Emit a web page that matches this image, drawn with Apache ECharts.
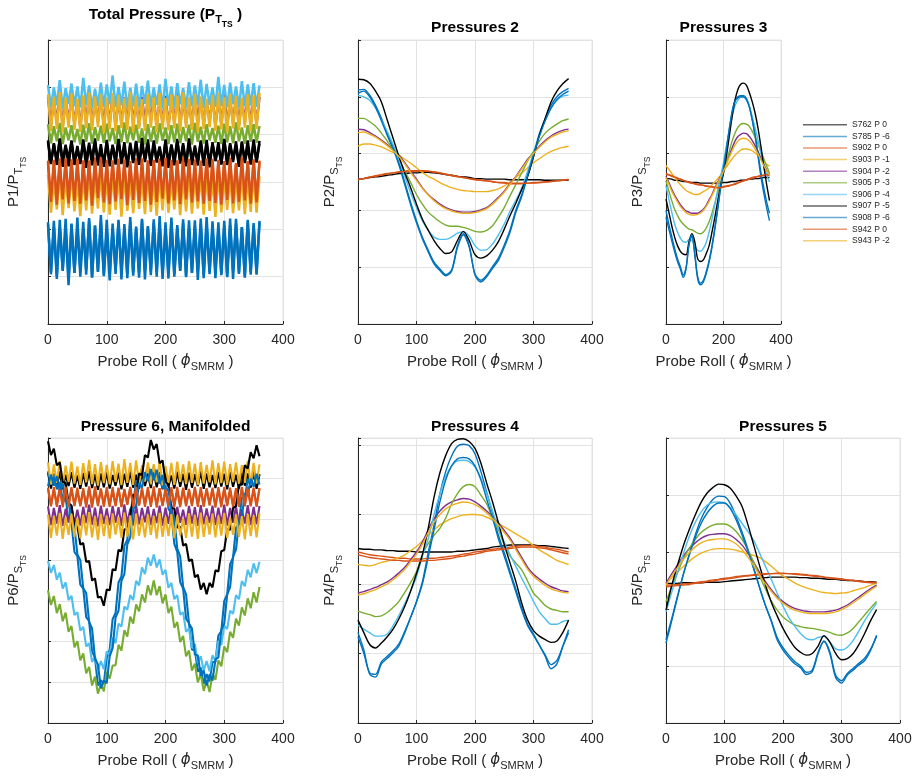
<!DOCTYPE html>
<html><head><meta charset="utf-8">
<script src="https://cdn.jsdelivr.net/npm/echarts@6/dist/echarts.min.js"></script>
<style>html,body{margin:0;padding:0;background:#fff}#c{width:915px;height:776px}</style>
</head><body><div id="c"></div>
<script>
// ---------- sampling of probe roll (degrees) ----------
const rollDeg = [0,10,20,30,40,50,60,70,80,90,100,110,120,130,140,150,160,170,180,190,200,210,220,230,240,250,260,270,280,290,300,310,320,330,340,350,360];
const rollDegFine = [0,5,10,15,20,25,30,35,40,45,50,55,60,65,70,75,80,85,90,95,100,105,110,115,120,125,130,135,140,145,150,155,160,165,170,175,180,185,190,195,200,205,210,215,220,225,230,235,240,245,250,255,260,265,270,275,280,285,290,295,300,305,310,315,320,325,330,335,340,345,350,355,360];

const seriesNames = ['S762 P 0','S785 P -6','S902 P 0','S903 P -1','S904 P -2','S905 P -3','S906 P -4','S907 P -5','S908 P -6','S942 P 0','S943 P -2'];

// ---------- Total Pressure (P1 / PT_TS) ----------
const tot_S762 = [3.85,3.38,3.80,3.45,3.90,3.32,3.75,3.50,3.88,3.36, 3.70,3.42,3.86,3.30,3.78,3.48,3.92,3.35,3.72,3.40, 3.84,3.33,3.79,3.46,3.89,3.38,3.74,3.31,3.83,3.44, 3.87,3.37,3.76,3.49,3.90,3.34,3.81,3.41,3.73,3.36, 3.86,3.30,3.79,3.45,3.91,3.39,3.77,3.33,3.85,3.47, 3.72,3.35,3.88,3.42,3.80,3.31,3.84,3.44,3.75,3.38, 3.89,3.36,3.82,3.48,3.78,3.32,3.86,3.40,3.74,3.37, 3.90,3.43,3.81];
const tot_S785 = [2.15,1.05,2.05,0.95,2.20,1.12,1.98,0.82,2.10,1.08, 2.25,1.00,2.02,1.15,2.18,0.98,2.08,1.10,2.30,1.04, 1.95,0.92,2.12,1.06,2.20,1.13,2.00,0.97,2.16,1.02, 2.06,1.09,2.22,0.94,2.04,1.11,2.14,1.00,2.28,1.07, 1.99,0.96,2.17,1.05,2.09,1.12,2.21,0.99,2.03,1.08, 2.19,0.93,2.11,1.03,2.26,1.10,2.01,0.97,2.15,1.06, 2.07,1.01,2.23,0.95,2.12,1.09,2.05,0.98,2.20,1.04, 2.13,1.07,2.18];
const tot_S902 = [3.45,2.55,3.38,2.62,3.50,2.50,3.40,2.66,3.48,2.58, 3.35,2.52,3.46,2.64,3.42,2.54,3.52,2.60,3.37,2.48, 3.47,2.57,3.41,2.63,3.49,2.53,3.36,2.61,3.44,2.56, 3.51,2.59,3.39,2.51,3.46,2.65,3.43,2.55,3.50,2.58, 3.38,2.49,3.47,2.62,3.42,2.54,3.53,2.60,3.40,2.57, 3.48,2.52,3.36,2.64,3.45,2.56,3.49,2.50,3.41,2.61, 3.44,2.55,3.51,2.59,3.37,2.53,3.46,2.63,3.42,2.57, 3.48,2.60,3.45];
const tot_S903 = [3.15,2.35,3.05,2.42,3.20,2.30,3.10,2.45,3.18,2.38, 3.02,2.28,3.12,2.40,3.22,2.33,3.08,2.44,3.16,2.36, 3.06,2.31,3.19,2.41,3.11,2.27,3.14,2.39,3.04,2.34, 3.17,2.43,3.09,2.32,3.21,2.37,3.07,2.29,3.13,2.40, 3.18,2.35,3.03,2.42,3.15,2.30,3.10,2.38,3.20,2.33, 3.08,2.44,3.16,2.31,3.12,2.39,3.05,2.26,3.19,2.36, 3.11,2.41,3.14,2.34,3.07,2.40,3.17,2.32,3.09,2.37, 3.15,2.35,3.12];
const tot_S904 = [4.80,4.20,4.75,4.25,4.85,4.18,4.72,4.28,4.82,4.22, 4.70,4.16,4.78,4.24,4.88,4.20,4.74,4.27,4.81,4.19, 4.76,4.23,4.84,4.17,4.71,4.26,4.79,4.21,4.86,4.25, 4.73,4.18,4.80,4.22,4.77,4.28,4.83,4.16,4.75,4.24, 4.82,4.20,4.72,4.26,4.87,4.19,4.78,4.23,4.74,4.17, 4.85,4.25,4.79,4.21,4.71,4.27,4.81,4.18,4.76,4.22, 4.84,4.20,4.73,4.24,4.80,4.19,4.77,4.26,4.83,4.21, 4.78,4.23,4.80];
const tot_S905 = [4.22,3.82,4.18,3.86,4.25,3.80,4.15,3.88,4.20,3.84, 4.12,3.79,4.21,3.85,4.24,3.81,4.16,3.87,4.19,3.83, 4.23,3.86,4.14,3.80,4.20,3.84,4.26,3.82,4.17,3.88, 4.21,3.83,4.13,3.79,4.22,3.85,4.18,3.81,4.24,3.87, 4.15,3.80,4.20,3.84,4.23,3.82,4.16,3.86,4.21,3.79, 4.25,3.85,4.17,3.81,4.22,3.88,4.14,3.83,4.19,3.80, 4.23,3.84,4.18,3.82,4.26,3.86,4.15,3.81,4.20,3.85, 4.22,3.83,4.18];
const tot_S906 = [5.05,4.58,5.00,4.62,5.15,4.55,4.98,4.65,5.08,4.60, 5.02,4.57,5.20,4.63,5.04,4.56,4.97,4.61,5.10,4.59, 5.06,4.64,5.25,4.58,5.01,4.62,5.12,4.56,4.99,4.60, 5.08,4.57,5.03,4.65,5.14,4.59,5.00,4.63,5.06,4.55, 5.18,4.61,5.02,4.58,5.09,4.64,4.98,4.57,5.11,4.60, 5.04,4.62,5.16,4.56,5.07,4.63,5.00,4.59,5.22,4.61, 5.05,4.58,5.10,4.64,5.02,4.57,5.13,4.60,5.06,4.62, 5.09,4.59,5.04];
const tot_S907 = [3.88,3.40,3.82,3.36,3.92,3.44,3.79,3.33,3.86,3.42, 3.76,3.38,3.90,3.46,3.83,3.35,3.87,3.41,3.80,3.32, 3.89,3.43,3.77,3.37,3.91,3.45,3.84,3.34,3.78,3.40, 3.86,3.36,3.93,3.42,3.81,3.38,3.88,3.47,3.75,3.33, 3.90,3.41,3.79,3.35,3.87,3.44,3.82,3.39,3.92,3.36, 3.77,3.43,3.85,3.34,3.89,3.40,3.80,3.46,3.84,3.37, 3.91,3.38,3.78,3.42,3.86,3.35,3.83,3.45,3.88,3.39, 3.81,3.41,3.87];
const tot_S908 = [2.10,1.10,2.18,1.02,2.05,1.15,2.22,0.96,2.12,1.08, 2.00,1.13,2.16,1.04,2.24,0.99,2.08,1.11,2.14,1.01, 2.20,1.07,2.03,1.14,2.17,0.94,2.11,1.05,2.26,1.09, 2.02,0.98,2.19,1.12,2.07,1.03,2.21,1.10,2.09,0.95, 2.15,1.06,2.25,1.00,2.04,1.13,2.13,1.02,2.19,1.08, 2.06,1.11,2.23,0.97,2.10,1.05,2.17,1.14,2.01,1.03, 2.18,0.99,2.09,1.12,2.22,1.06,2.05,1.01,2.16,1.10, 2.08,1.04,2.14];
const tot_S942 = [3.40,2.58,3.47,2.52,3.36,2.63,3.50,2.55,3.43,2.60, 3.49,2.54,3.39,2.61,3.45,2.50,3.41,2.66,3.52,2.57, 3.38,2.53,3.46,2.59,3.42,2.64,3.48,2.51,3.37,2.62, 3.44,2.56,3.50,2.60,3.40,2.52,3.47,2.58,3.43,2.65, 3.51,2.55,3.39,2.61,3.46,2.53,3.42,2.63,3.49,2.57, 3.37,2.59,3.45,2.54,3.50,2.60,3.41,2.56,3.47,2.52, 3.43,2.62,3.48,2.55,3.40,2.58,3.52,2.61,3.44,2.54, 3.46,2.57,3.42];
const tot_S943 = [4.85,4.08,4.80,4.12,4.90,4.05,4.78,4.15,4.87,4.10, 4.76,4.06,4.83,4.13,4.89,4.09,4.81,4.16,4.86,4.04, 4.79,4.11,4.88,4.07,4.84,4.14,4.77,4.10,4.91,4.06, 4.82,4.12,4.75,4.08,4.86,4.15,4.80,4.05,4.88,4.11, 4.78,4.09,4.85,4.13,4.83,4.07,4.90,4.14,4.79,4.10, 4.87,4.06,4.81,4.12,4.76,4.16,4.84,4.08,4.89,4.11, 4.80,4.05,4.86,4.13,4.82,4.09,4.78,4.15,4.85,4.07, 4.83,4.12,4.88];

// ---------- Pressures 2 ----------
const p2_S762 = [2.55,2.56,2.58,2.59,2.60,2.62,2.63,2.65,2.65,2.66,2.66,2.67,2.67,2.66,2.65,2.63,2.62,2.60,2.59,2.58,2.56,2.56,2.55,2.55,2.55,2.55,2.54,2.54,2.54,2.54,2.54,2.54,2.53,2.53,2.53,2.53,2.53];
const p2_S785 = [4.12,4.13,4.03,3.85,3.62,3.36,3.13,2.84,2.49,2.14,1.82,1.53,1.30,1.09,0.97,0.87,0.95,1.38,1.59,1.38,0.86,0.74,0.83,0.98,1.12,1.35,1.62,1.97,2.25,2.60,2.95,3.33,3.62,3.85,4.00,4.09,4.15];
const p2_S902 = [2.55,2.56,2.59,2.60,2.62,2.64,2.66,2.67,2.68,2.69,2.69,2.69,2.69,2.67,2.66,2.63,2.61,2.59,2.58,2.56,2.54,2.53,2.52,2.51,2.49,2.49,2.48,2.48,2.48,2.48,2.49,2.49,2.50,2.51,2.52,2.53,2.55];
const p2_S903 = [3.13,3.17,3.17,3.15,3.12,3.07,3.02,2.97,2.90,2.83,2.75,2.67,2.60,2.55,2.49,2.44,2.40,2.37,2.35,2.34,2.33,2.33,2.33,2.35,2.38,2.43,2.50,2.58,2.66,2.75,2.84,2.91,2.98,3.04,3.08,3.11,3.13];
const p2_S904 = [3.43,3.42,3.37,3.31,3.24,3.16,3.07,2.97,2.84,2.69,2.55,2.40,2.28,2.19,2.11,2.05,2.01,1.98,1.97,1.97,1.98,2.01,2.05,2.13,2.23,2.34,2.48,2.60,2.75,2.90,3.01,3.13,3.23,3.31,3.37,3.41,3.43];
const p2_S905 = [3.62,3.62,3.56,3.48,3.36,3.22,3.07,2.90,2.69,2.49,2.28,2.11,1.97,1.88,1.80,1.74,1.72,1.72,1.70,1.67,1.63,1.62,1.65,1.73,1.88,2.05,2.26,2.46,2.66,2.87,3.04,3.22,3.36,3.45,3.52,3.58,3.61];
const p2_S906 = [4.03,4.00,3.94,3.80,3.59,3.39,3.16,2.90,2.60,2.31,2.05,1.82,1.65,1.53,1.49,1.49,1.53,1.60,1.62,1.55,1.38,1.30,1.31,1.41,1.57,1.76,1.99,2.18,2.40,2.69,3.01,3.36,3.59,3.80,3.94,4.01,4.03];
const p2_S907 = [4.31,4.30,4.24,4.10,3.91,3.59,3.27,2.95,2.66,2.40,2.11,1.85,1.65,1.47,1.33,1.24,1.27,1.47,1.63,1.47,1.22,1.16,1.20,1.30,1.45,1.67,1.91,2.13,2.37,2.60,2.95,3.33,3.62,3.91,4.10,4.23,4.32];
const p2_S908 = [4.06,4.10,4.00,3.82,3.58,3.32,3.08,2.80,2.45,2.10,1.78,1.50,1.27,1.06,0.94,0.85,0.93,1.34,1.57,1.36,0.88,0.77,0.86,1.01,1.16,1.39,1.66,2.01,2.28,2.62,2.98,3.30,3.58,3.80,3.95,4.04,4.10];
const p2_S942 = [2.54,2.56,2.58,2.61,2.63,2.65,2.66,2.68,2.69,2.70,2.70,2.70,2.69,2.68,2.66,2.64,2.62,2.60,2.58,2.56,2.55,2.53,2.52,2.50,2.49,2.48,2.47,2.47,2.47,2.48,2.48,2.49,2.50,2.51,2.52,2.53,2.54];
const p2_S943 = [3.37,3.38,3.34,3.29,3.22,3.14,3.05,2.95,2.82,2.67,2.53,2.39,2.27,2.17,2.09,2.03,1.99,1.96,1.95,1.95,1.96,1.99,2.03,2.11,2.21,2.32,2.46,2.59,2.73,2.88,3.00,3.11,3.21,3.29,3.34,3.38,3.40];

// ---------- Pressures 3 ----------
const p3_S762 = [2.56,2.56,2.55,2.53,2.53,2.52,2.51,2.51,2.50,2.49,2.49,2.49,2.48,2.48,2.48,2.48,2.48,2.48,2.48,2.48,2.49,2.49,2.50,2.51,2.51,2.52,2.53,2.53,2.54,2.55,2.55,2.56,2.56,2.57,2.58,2.58,2.58];
const p3_S785 = [1.88,1.67,1.47,1.27,1.10,0.97,0.82,0.98,1.40,1.55,1.22,0.80,0.69,0.74,0.89,1.09,1.35,1.67,2.02,2.40,2.72,3.07,3.42,3.74,3.94,4.00,4.02,4.02,3.97,3.83,3.59,3.30,2.95,2.60,2.31,2.05,1.82];
const p3_S902 = [2.63,2.62,2.60,2.58,2.56,2.55,2.53,2.51,2.49,2.48,2.47,2.45,2.45,2.44,2.43,2.42,2.42,2.41,2.41,2.41,2.42,2.43,2.44,2.45,2.47,2.49,2.51,2.52,2.54,2.56,2.58,2.59,2.60,2.61,2.62,2.62,2.62];
const p3_S903 = [2.79,2.72,2.65,2.58,2.51,2.45,2.40,2.35,2.32,2.30,2.28,2.28,2.30,2.33,2.36,2.40,2.45,2.50,2.56,2.62,2.69,2.76,2.84,2.91,2.97,3.02,3.06,3.08,3.08,3.07,3.05,3.01,2.97,2.91,2.86,2.81,2.78];
const p3_S904 = [2.60,2.49,2.37,2.27,2.18,2.10,2.04,1.99,1.97,1.95,1.95,1.95,1.98,2.02,2.09,2.19,2.28,2.40,2.50,2.60,2.71,2.84,2.97,3.10,3.22,3.30,3.34,3.36,3.35,3.30,3.23,3.14,3.04,2.92,2.81,2.71,2.62];
const p3_S905 = [2.52,2.34,2.17,2.02,1.91,1.82,1.76,1.71,1.67,1.66,1.63,1.60,1.59,1.62,1.69,1.80,1.95,2.13,2.31,2.49,2.66,2.84,3.04,3.22,3.36,3.46,3.52,3.53,3.52,3.48,3.39,3.29,3.17,3.04,2.91,2.78,2.66];
const p3_S906 = [2.43,2.20,1.97,1.76,1.62,1.51,1.45,1.44,1.49,1.47,1.38,1.30,1.28,1.33,1.44,1.62,1.85,2.11,2.37,2.60,2.84,3.13,3.39,3.65,3.84,3.94,3.99,3.99,3.94,3.83,3.65,3.45,3.24,3.01,2.81,2.63,2.50];
const p3_S907 = [2.20,1.97,1.73,1.53,1.38,1.28,1.23,1.22,1.45,1.59,1.45,1.15,1.10,1.13,1.24,1.38,1.62,1.88,2.17,2.43,2.66,2.95,3.30,3.65,3.94,4.13,4.22,4.24,4.20,4.07,3.91,3.71,3.45,3.13,2.78,2.46,2.17];
const p3_S908 = [2.00,1.76,1.54,1.33,1.15,1.01,0.86,1.00,1.40,1.57,1.25,0.84,0.72,0.77,0.92,1.12,1.38,1.70,2.05,2.42,2.74,3.08,3.43,3.73,3.92,3.98,4.00,4.00,3.95,3.82,3.60,3.33,3.00,2.68,2.40,2.15,1.95];
const p3_S942 = [2.65,2.63,2.61,2.59,2.57,2.55,2.53,2.51,2.50,2.48,2.47,2.46,2.45,2.44,2.43,2.42,2.41,2.40,2.40,2.40,2.41,2.42,2.43,2.45,2.46,2.48,2.50,2.52,2.54,2.55,2.57,2.58,2.60,2.61,2.62,2.63,2.64];
const p3_S943 = [2.58,2.46,2.34,2.24,2.15,2.07,2.01,1.96,1.93,1.92,1.92,1.93,1.95,2.00,2.07,2.16,2.26,2.37,2.48,2.58,2.69,2.81,2.93,3.05,3.15,3.22,3.26,3.27,3.26,3.22,3.16,3.08,2.99,2.89,2.79,2.70,2.62];

// ---------- Pressure 6, Manifolded ----------
const p6_S762 = [6.15,5.76,6.12,5.80,6.18,5.74,6.10,5.82,6.16,5.78, 6.08,5.75,6.14,5.81,6.19,5.77,6.11,5.73,6.13,5.79, 6.17,5.76,6.09,5.83,6.15,5.74,6.12,5.80,6.18,5.78, 6.10,5.75,6.16,5.82,6.13,5.77,6.19,5.79,6.11,5.74, 6.14,5.81,6.08,5.76,6.17,5.80,6.12,5.73,6.15,5.78, 6.11,5.82,6.18,5.75,6.13,5.79,6.09,5.77,6.16,5.81, 6.12,5.74,6.17,5.80,6.10,5.76,6.15,5.83,6.13,5.78, 6.16,5.75,6.11];
const p6_S785 = [6.18,5.86,6.10,5.74,5.92,5.48,5.55,4.96,4.90,4.20, 4.10,3.40,3.30,2.60,2.50,1.76,1.60,0.92,1.05,0.96, 1.60,1.80,2.55,2.70,3.45,3.60,4.35,4.50,5.25,5.36, 5.95,5.86,6.24,6.02,6.32,6.06,6.30,5.98,6.16,5.76, 5.85,5.26,5.15,4.40,4.20,3.46,3.30,2.56,2.45,1.80, 1.80,1.26,1.36,0.96,1.20,1.02,1.50,1.50,2.15,2.26, 3.00,3.16,3.90,4.06,4.80,4.90,5.55,5.50,6.00,5.83, 6.18,5.92,6.10];
const p6_S902 = [5.78,5.32,5.74,5.36,5.80,5.30,5.72,5.38,5.79,5.33, 5.70,5.35,5.77,5.29,5.81,5.34,5.73,5.37,5.76,5.31, 5.79,5.36,5.71,5.32,5.78,5.30,5.75,5.38,5.80,5.33, 5.72,5.35,5.77,5.31,5.74,5.37,5.81,5.29,5.76,5.34, 5.73,5.32,5.79,5.36,5.71,5.30,5.78,5.35,5.75,5.33, 5.80,5.37,5.72,5.31,5.77,5.34,5.74,5.29,5.79,5.36, 5.75,5.33,5.78,5.30,5.73,5.38,5.76,5.32,5.80,5.35, 5.74,5.31,5.77];
const p6_S903 = [6.40,5.86,6.35,5.90,6.44,5.84,6.32,5.92,6.42,5.88, 6.30,5.85,6.38,5.91,6.46,5.87,6.36,5.83,6.41,5.89, 6.34,5.86,6.43,5.92,6.37,5.84,6.48,5.90,6.39,5.85, 6.45,5.88,6.33,5.93,6.40,5.86,6.36,5.91,6.44,5.84, 6.31,5.89,6.39,5.85,6.42,5.92,6.35,5.87,6.43,5.90, 6.37,5.84,6.41,5.88,6.34,5.91,6.45,5.86,6.38,5.89, 6.42,5.85,6.36,5.92,6.40,5.87,6.33,5.90,6.44,5.86, 6.39,5.88,6.35];
const p6_S904 = [5.32,4.86,5.28,4.90,5.35,4.84,5.26,4.92,5.33,4.88, 5.24,4.85,5.31,4.91,5.36,4.87,5.29,4.83,5.34,4.89, 5.27,4.86,5.33,4.92,5.30,4.84,5.37,4.90,5.25,4.85, 5.35,4.88,5.28,4.93,5.32,4.86,5.26,4.91,5.34,4.84, 5.29,4.89,5.36,4.85,5.31,4.92,5.24,4.87,5.33,4.90, 5.30,4.84,5.35,4.88,5.27,4.91,5.34,4.86,5.29,4.89, 5.36,4.85,5.28,4.92,5.32,4.87,5.25,4.90,5.35,4.86, 5.31,4.88,5.33];
const p6_S905 = [3.26,2.90,3.12,2.70,2.92,2.50,2.71,2.24,2.38,1.86, 2.01,1.54,1.71,1.22,1.38,0.92,1.14,0.72,0.96,0.78, 1.26,1.09,1.41,1.42,1.92,1.78,2.28,2.12,2.61,2.44, 2.91,2.74,3.16,2.96,3.38,3.14,3.50,3.14,3.36,2.94, 3.16,2.70,2.86,2.34,2.48,1.99,2.14,1.64,1.78,1.29, 1.46,1.00,1.21,0.79,1.04,0.76,1.21,1.06,1.54,1.39, 1.88,1.74,2.24,2.09,2.56,2.39,2.84,2.64,3.06,2.82, 3.21,2.96,3.34];
const p6_S906 = [3.98,3.69,3.88,3.52,3.69,3.30,3.45,3.02,3.12,2.65, 2.72,2.27,2.36,1.88,1.96,1.50,1.64,1.29,1.52,1.32, 1.76,1.67,2.10,1.96,2.44,2.37,2.86,2.78,3.14,3.02, 3.49,3.38,3.82,3.66,4.06,3.86,4.14,3.82,4.02,3.64, 3.76,3.32,3.44,3.04,3.14,2.66,2.72,2.24,2.32,1.84, 1.94,1.48,1.64,1.29,1.52,1.27,1.66,1.54,2.01,1.92, 2.39,2.31,2.76,2.68,3.14,3.04,3.49,3.36,3.76,3.58, 3.92,3.68,3.96];
const p6_S907 = [6.92,6.58,6.74,6.33,6.40,5.92,5.90,5.40,5.34,4.82, 4.85,4.38,4.42,3.96,3.98,3.50,3.55,3.08,3.10,2.88, 3.28,3.26,3.78,3.75,4.25,4.22,4.75,4.77,5.05,5.60, 5.62,6.13,6.08,6.58,6.52,6.95,6.72,6.85,6.38,6.45, 5.92,5.85,5.28,5.27,4.80,4.82,4.36,4.40,3.98,4.02, 3.58,3.64,3.28,3.44,3.16,3.44,3.33,3.75,3.72,4.22, 4.25,4.75,4.75,5.28,5.33,5.85,5.85,6.33,6.25,6.65, 6.50,6.82,6.55];
const p6_S908 = [5.82,6.10,5.83,6.06,5.71,5.88,5.44,5.50,4.91,4.82, 4.14,4.00,3.31,3.19,2.48,2.32,1.58,1.44,0.85,1.04, 0.98,1.64,1.84,2.59,2.76,3.49,3.66,4.39,4.56,5.26, 5.34,5.89,5.78,6.16,5.94,6.24,5.96,6.22,5.88,6.09, 5.68,5.76,5.16,5.04,4.28,4.09,3.34,3.16,2.44,2.32, 1.68,1.66,1.16,1.29,0.92,1.19,1.04,1.56,1.61,2.29, 2.44,3.16,3.34,4.09,4.26,4.96,5.06,5.64,5.58,6.00, 5.80,6.12,5.86];
const p6_S942 = [5.76,5.34,5.79,5.31,5.73,5.37,5.80,5.30,5.75,5.35, 5.78,5.32,5.72,5.36,5.77,5.29,5.81,5.33,5.74,5.38, 5.71,5.31,5.79,5.35,5.76,5.32,5.73,5.36,5.78,5.30, 5.80,5.34,5.74,5.37,5.79,5.31,5.72,5.35,5.77,5.33, 5.75,5.36,5.73,5.30,5.80,5.34,5.76,5.32,5.71,5.37, 5.77,5.31,5.79,5.35,5.74,5.38,5.78,5.33,5.73,5.30, 5.79,5.36,5.72,5.34,5.77,5.31,5.80,5.35,5.75,5.32, 5.78,5.34,5.76];
const p6_S943 = [5.12,4.55,5.08,4.60,5.16,4.52,5.05,4.62,5.14,4.57, 5.03,4.54,5.11,4.61,5.18,4.56,5.07,4.50,5.13,4.59, 5.09,4.53,5.15,4.63,5.06,4.55,5.17,4.58,5.10,4.51, 5.14,4.60,5.04,4.56,5.12,4.62,5.08,4.53,5.16,4.57, 5.06,4.59,5.13,4.54,5.10,4.61,5.02,4.55,5.15,4.58, 5.11,4.52,5.17,4.57,5.07,4.63,5.14,4.56,5.09,4.60, 5.16,4.54,5.05,4.62,5.12,4.57,5.08,4.51,5.13,4.59, 5.10,4.56,5.15];

// ---------- Pressures 4 ----------
const p4_S762 = [2.51,2.50,2.50,2.49,2.49,2.48,2.48,2.47,2.47,2.47,2.46,2.46,2.46,2.46,2.46,2.46,2.46,2.47,2.47,2.48,2.49,2.50,2.51,2.53,2.54,2.55,2.56,2.56,2.56,2.56,2.56,2.55,2.55,2.54,2.53,2.52,2.51];
const p4_S785 = [1.30,1.05,0.70,0.66,0.85,0.93,1.01,1.11,1.30,1.52,1.75,2.03,2.45,2.85,3.30,3.62,3.84,3.98,4.01,3.99,3.87,3.62,3.32,3.02,2.70,2.45,2.18,1.92,1.65,1.42,1.28,1.12,0.96,0.78,0.85,1.10,1.34];
const p4_S902 = [2.46,2.44,2.42,2.41,2.40,2.39,2.38,2.37,2.37,2.36,2.36,2.36,2.37,2.37,2.38,2.39,2.40,2.41,2.43,2.44,2.46,2.47,2.49,2.50,2.51,2.52,2.53,2.54,2.55,2.55,2.55,2.54,2.53,2.51,2.50,2.48,2.46];
const p4_S903 = [2.28,2.27,2.26,2.28,2.31,2.33,2.35,2.38,2.42,2.48,2.54,2.62,2.70,2.78,2.85,2.90,2.94,2.97,2.99,3.00,3.00,2.99,2.96,2.92,2.87,2.82,2.77,2.72,2.67,2.62,2.55,2.49,2.44,2.39,2.34,2.31,2.28];
const p4_S904 = [1.87,1.89,1.92,1.95,1.99,2.03,2.09,2.16,2.24,2.35,2.46,2.60,2.78,2.94,3.05,3.13,3.18,3.21,3.23,3.22,3.18,3.12,3.05,2.97,2.88,2.77,2.66,2.52,2.38,2.24,2.14,2.07,2.01,1.96,1.93,1.90,1.89];
const p4_S905 = [1.61,1.58,1.56,1.53,1.54,1.59,1.66,1.75,1.88,2.02,2.18,2.42,2.58,2.70,2.80,2.95,3.15,3.30,3.40,3.43,3.40,3.28,3.15,2.95,2.78,2.56,2.40,2.30,2.20,2.04,1.87,1.78,1.69,1.64,1.62,1.60,1.60];
const p4_S906 = [1.41,1.35,1.30,1.25,1.25,1.28,1.40,1.55,1.72,1.90,2.10,2.40,2.65,3.00,3.30,3.55,3.70,3.77,3.78,3.76,3.68,3.52,3.30,3.05,2.80,2.60,2.42,2.25,2.08,1.92,1.75,1.60,1.50,1.42,1.42,1.46,1.48];
const p4_S907 = [1.48,1.30,1.13,1.08,1.15,1.24,1.35,1.50,1.68,1.90,2.15,2.42,2.80,3.25,3.60,3.85,4.02,4.08,4.09,4.05,3.95,3.74,3.45,3.18,2.88,2.57,2.30,2.03,1.72,1.48,1.33,1.25,1.20,1.16,1.18,1.30,1.48];
const p4_S908 = [1.24,1.00,0.72,0.70,0.88,0.96,1.04,1.14,1.32,1.52,1.74,2.00,2.38,2.78,3.18,3.50,3.70,3.80,3.82,3.80,3.70,3.50,3.22,2.95,2.65,2.40,2.14,1.88,1.62,1.40,1.26,1.12,0.98,0.84,0.90,1.10,1.30];
const p4_S942 = [2.42,2.40,2.38,2.37,2.36,2.35,2.34,2.34,2.33,2.33,2.33,2.33,2.34,2.34,2.35,2.36,2.37,2.39,2.40,2.42,2.43,2.45,2.47,2.48,2.49,2.50,2.51,2.52,2.53,2.53,2.53,2.52,2.51,2.49,2.47,2.45,2.43];
const p4_S943 = [1.84,1.86,1.89,1.92,1.96,2.00,2.06,2.13,2.21,2.32,2.43,2.57,2.74,2.89,3.00,3.08,3.13,3.16,3.18,3.17,3.14,3.09,3.02,2.94,2.85,2.74,2.63,2.49,2.35,2.21,2.11,2.04,1.98,1.93,1.90,1.88,1.87];

// ---------- Pressures 5 ----------
const p5_S762 = [2.45,2.45,2.45,2.46,2.46,2.46,2.46,2.47,2.47,2.47,2.48,2.49,2.50,2.51,2.52,2.53,2.54,2.55,2.56,2.56,2.56,2.56,2.56,2.55,2.55,2.54,2.54,2.53,2.52,2.52,2.51,2.50,2.50,2.49,2.48,2.48,2.47];
const p5_S785 = [1.40,1.80,2.22,2.62,2.97,3.30,3.58,3.78,3.92,3.98,3.97,3.85,3.62,3.35,3.05,2.72,2.38,2.06,1.78,1.46,1.28,1.15,1.04,0.97,0.85,0.90,1.22,1.43,1.22,0.80,0.70,0.84,0.93,1.02,1.10,1.28,1.54];
const p5_S902 = [2.39,2.40,2.41,2.42,2.43,2.45,2.46,2.48,2.49,2.51,2.52,2.54,2.55,2.57,2.58,2.59,2.60,2.61,2.62,2.62,2.62,2.62,2.61,2.60,2.59,2.58,2.57,2.56,2.54,2.53,2.52,2.51,2.50,2.48,2.47,2.46,2.45];
const p5_S903 = [2.45,2.55,2.65,2.75,2.84,2.92,2.98,3.02,3.05,3.06,3.06,3.05,3.03,3.00,2.97,2.94,2.90,2.83,2.75,2.66,2.58,2.52,2.46,2.41,2.37,2.34,2.31,2.29,2.28,2.27,2.28,2.29,2.32,2.35,2.38,2.42,2.45];
const p5_S904 = [2.45,2.62,2.78,2.93,3.06,3.16,3.24,3.29,3.31,3.32,3.32,3.29,3.22,3.12,2.98,2.82,2.64,2.48,2.34,2.22,2.13,2.06,2.01,1.98,1.96,1.95,1.95,1.95,1.96,1.98,2.02,2.07,2.14,2.21,2.29,2.36,2.42];
const p5_S905 = [2.13,2.40,2.65,2.88,3.07,3.22,3.34,3.42,3.47,3.49,3.49,3.45,3.36,3.22,3.04,2.82,2.58,2.35,2.14,1.98,1.86,1.78,1.72,1.69,1.67,1.66,1.64,1.62,1.59,1.55,1.54,1.58,1.66,1.78,1.90,2.02,2.13];
const p5_S906 = [1.95,2.30,2.65,2.98,3.28,3.52,3.70,3.82,3.87,3.88,3.86,3.78,3.65,3.50,3.36,3.20,2.98,2.75,2.52,2.28,2.05,1.85,1.70,1.57,1.48,1.46,1.50,1.52,1.42,1.30,1.28,1.33,1.45,1.62,1.80,1.96,2.10];
const p5_S907 = [1.98,2.42,2.78,3.12,3.40,3.65,3.87,4.03,4.13,4.19,4.18,4.12,3.98,3.80,3.48,3.12,2.76,2.42,2.12,1.88,1.66,1.48,1.33,1.24,1.19,1.22,1.35,1.53,1.42,1.22,1.11,1.13,1.22,1.38,1.58,1.80,1.99];
const p5_S908 = [1.46,1.84,2.24,2.62,2.95,3.25,3.50,3.68,3.80,3.86,3.86,3.76,3.56,3.30,3.02,2.70,2.37,2.06,1.80,1.50,1.32,1.19,1.08,1.00,0.89,0.93,1.24,1.44,1.25,0.84,0.74,0.87,0.96,1.05,1.14,1.30,1.52];
const p5_S942 = [2.42,2.42,2.43,2.44,2.45,2.46,2.48,2.49,2.51,2.52,2.54,2.55,2.57,2.58,2.59,2.60,2.61,2.62,2.62,2.63,2.63,2.62,2.62,2.61,2.60,2.59,2.58,2.56,2.55,2.54,2.53,2.51,2.50,2.49,2.48,2.47,2.46];
const p5_S943 = [2.42,2.58,2.73,2.87,2.99,3.09,3.16,3.20,3.22,3.23,3.23,3.20,3.14,3.04,2.91,2.76,2.59,2.44,2.31,2.19,2.10,2.03,1.98,1.95,1.93,1.92,1.92,1.92,1.93,1.95,1.99,2.04,2.11,2.18,2.26,2.33,2.40];

// ---------- styling (kept apart from the data) ----------
const seriesColors = ['#000000','#0072BD','#D95319','#EDB120','#7E2F8E','#77AC30','#4DBEEE','#000000','#0072BD','#D95319','#EDB120'];
const FONT = "'Liberation Sans', Arial, Helvetica, sans-serif";
const TXT = '#262626';
const GRIDC = '#e2e2e2';

const nameRich = {
  m: {fontSize: 15, color: TXT, fontFamily: FONT},
  p: {fontSize: 15, color: TXT, fontFamily: "'DejaVu Sans', sans-serif", fontStyle: 'italic'},
  s: {fontSize: 11, color: TXT, fontFamily: FONT, padding: [10, 0, 0, 0]},
  ss: {fontSize: 8.5, color: TXT, fontFamily: FONT, padding: [20, 0, 0, 0]}
};
const titleRich = {
  b: {fontSize: 15.5, fontWeight: 'bold', fill: '#000', fontFamily: FONT},
  s: {fontSize: 11, fontWeight: 'bold', fill: '#000', fontFamily: FONT, padding: [10, 0, 0, 0]},
  ss: {fontSize: 8.5, fontWeight: 'bold', fill: '#000', fontFamily: FONT, padding: [20, 0, 0, 0]}
};
const xName = '{m|Probe Roll ( }{p|ϕ}{s|SMRM}{m| )}';

const panels = [
  {title: '{b|Total Pressure (P}{s|T}{ss|TS}{b| )}', titleY: 15, yName: '{m|P1/P}{s|T}{ss|TS}', nameGap: 20,
   grid: {left: 48, top: 40, width: 235, height: 284}, ymax: 6, xstep: 100, x: rollDegFine, smooth: false, lw: 2.5,
   ys: [tot_S762, tot_S785, tot_S902, tot_S903, tot_S904, tot_S905, tot_S906, tot_S907, tot_S908, tot_S942, tot_S943]},
  {title: '{b|Pressures 2}', titleY: 28, yName: '{m|P2/P}{s|S}{ss|TS}', nameGap: 14,
   grid: {left: 358, top: 40, width: 234, height: 284}, ymax: 5, xstep: 100, x: rollDeg, smooth: 0.3, lw: 1.4,
   ys: [p2_S762, p2_S785, p2_S902, p2_S903, p2_S904, p2_S905, p2_S906, p2_S907, p2_S908, p2_S942, p2_S943]},
  {title: '{b|Pressures 3}', titleY: 28, yName: '{m|P3/P}{s|S}{ss|TS}', nameGap: 14,
   grid: {left: 666, top: 40, width: 115, height: 284}, ymax: 5, xstep: 200, x: rollDeg, smooth: 0.3, lw: 1.4,
   ys: [p3_S762, p3_S785, p3_S902, p3_S903, p3_S904, p3_S905, p3_S906, p3_S907, p3_S908, p3_S942, p3_S943]},
  {title: '{b|Pressure 6, Manifolded}', titleY: 427, yName: '{m|P6/P}{s|S}{ss|TS}', nameGap: 20,
   grid: {left: 48, top: 438, width: 235, height: 285}, ymax: 7, xstep: 100, x: rollDegFine, smooth: false, lw: 2.1,
   ys: [p6_S762, p6_S785, p6_S902, p6_S903, p6_S904, p6_S905, p6_S906, p6_S907, p6_S908, p6_S942, p6_S943]},
  {title: '{b|Pressures 4}', titleY: 427, yName: '{m|P4/P}{s|S}{ss|TS}', nameGap: 14,
   grid: {left: 358, top: 438, width: 234, height: 285}, ymax: 4.1, xstep: 100, x: rollDeg, smooth: 0.3, lw: 1.4,
   ys: [p4_S762, p4_S785, p4_S902, p4_S903, p4_S904, p4_S905, p4_S906, p4_S907, p4_S908, p4_S942, p4_S943]},
  {title: '{b|Pressures 5}', titleY: 427, yName: '{m|P5/P}{s|S}{ss|TS}', nameGap: 14,
   grid: {left: 666, top: 438, width: 234, height: 285}, ymax: 5, xstep: 100, x: rollDeg, smooth: 0.3, lw: 1.4,
   ys: [p5_S762, p5_S785, p5_S902, p5_S903, p5_S904, p5_S905, p5_S906, p5_S907, p5_S908, p5_S942, p5_S943]}
];

const grids = [], xAxes = [], yAxes = [], series = [], graphics = [];
panels.forEach((p, pi) => {
  grids.push(Object.assign({}, p.grid, {show: true, borderColor: GRIDC, borderWidth: 1, backgroundColor: 'rgba(0,0,0,0)', containLabel: false, outerBoundsMode: 'none'}));
  xAxes.push({
    gridIndex: pi, type: 'value', min: 0, max: 400, interval: p.xstep,
    axisLine: {show: true, onZero: false, lineStyle: {color: TXT, width: 1}},
    axisTick: {show: true, inside: true, length: 3, lineStyle: {color: TXT}},
    axisLabel: {fontSize: 14, color: TXT, fontFamily: FONT, margin: 9},
    splitLine: {show: true, lineStyle: {color: GRIDC, width: 1}},
    name: xName, nameLocation: 'middle', nameGap: 27, nameMoveOverlap: false,
    nameTextStyle: {rich: nameRich}
  });
  yAxes.push({
    gridIndex: pi, type: 'value', min: 0, max: p.ymax, interval: 1,
    axisLine: {show: true, onZero: false, lineStyle: {color: TXT, width: 1}},
    axisTick: {show: true, inside: true, length: 3, lineStyle: {color: TXT}},
    axisLabel: {show: false},
    splitLine: {show: true, lineStyle: {color: GRIDC, width: 1}},
    name: p.yName, nameLocation: 'middle', nameRotate: 90, nameGap: p.nameGap, nameMoveOverlap: false,
    nameTextStyle: {rich: nameRich}
  });
  p.ys.forEach((arr, si) => {
    series.push({
      type: 'line', name: seriesNames[si], xAxisIndex: pi, yAxisIndex: pi,
      data: p.x.map((xv, i) => [xv, arr[i]]),
      showSymbol: false, symbol: 'none', smooth: p.smooth, silent: true, animation: false,
      color: seriesColors[si],
      lineStyle: {width: p.lw, color: seriesColors[si]},
      itemStyle: {color: seriesColors[si]}
    });
  });
  graphics.push({
    type: 'text', x: p.grid.left + p.grid.width / 2, y: p.titleY, silent: true,
    style: {text: p.title, rich: titleRich, align: 'center', verticalAlign: 'middle'}
  });
});

const chart = echarts.init(document.getElementById('c'), null, {renderer: 'canvas'});
chart.setOption({
  backgroundColor: '#ffffff',
  animation: false,
  grid: grids, xAxis: xAxes, yAxis: yAxes, series: series,
  graphic: graphics,
  legend: {
    orient: 'vertical', left: 803, top: 119, padding: 0, itemGap: 0,
    itemWidth: 44, itemHeight: 1.5, icon: 'rect', selectedMode: false,
    data: seriesNames,
    itemStyle: {opacity: 0.6},
    textStyle: {fontSize: 8.5, color: TXT, fontFamily: FONT, lineHeight: 11.6}
  }
});
</script>
</body></html>
